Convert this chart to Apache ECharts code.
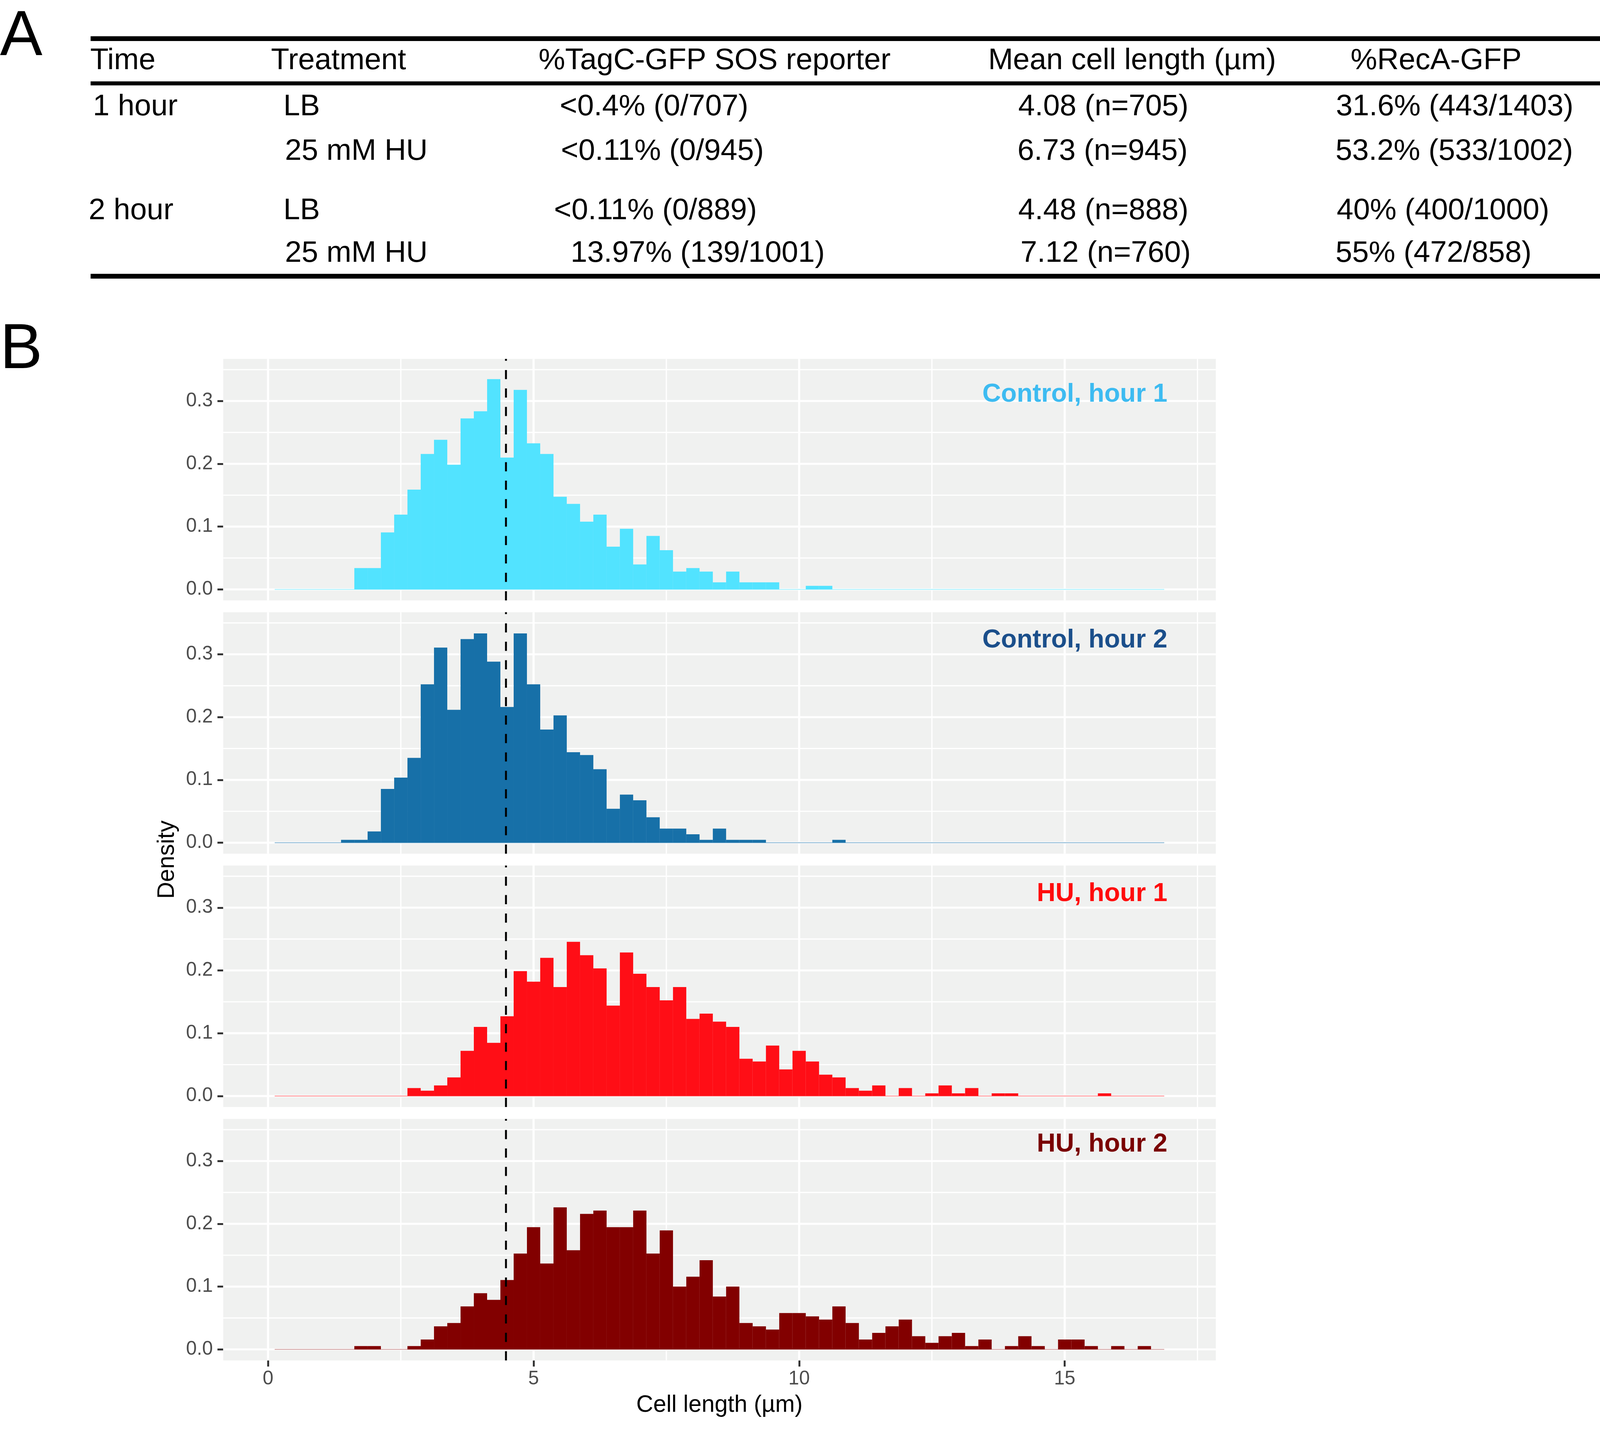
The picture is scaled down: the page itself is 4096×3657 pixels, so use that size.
<!DOCTYPE html>
<html><head><meta charset="utf-8">
<script src="https://cdn.jsdelivr.net/npm/echarts@6/dist/echarts.min.js"></script>
<style>html,body{margin:0;padding:0;background:#fff}#c{width:4096px;height:3657px}</style>
</head><body><div id="c"></div>
<script>
// ---------------- DATA ----------------
const binCenters = [0.25,0.5,0.75,1,1.25,1.5,1.75,2,2.25,2.5,2.75,3,3.25,3.5,3.75,4,4.25,4.5,4.75,5,
  5.25,5.5,5.75,6,6.25,6.5,6.75,7,7.25,7.5,7.75,8,8.25,8.5,8.75,9,9.25,9.5,9.75,10,
  10.25,10.5,10.75,11,11.25,11.5,11.75,12,12.25,12.5,12.75,13,13.25,13.5,13.75,14,14.25,14.5,14.75,15,
  15.25,15.5,15.75,16,16.25,16.5,16.75];
const binWidth = 0.25;
const binRange = [0.125, 16.875];
const panelNames = ['Control, hour 1','Control, hour 2','HU, hour 1','HU, hour 2'];
const densityControlH1 = [0,0,0,0,0,0,
  .0340,.0340,.0908,.1191,.1589,.2156,.2383,.1986,.2723,.2837,
  .3348,.2099,.3177,.2326,.2156,.1475,.1362,.1078,.1191,.0681,
  .0965,.0397,.0851,.0624,.0284,.0340,.0284,.0113,.0284,.0113,
  .0113,.0113,0,0,.0057,.0057,
  0,0,0,0,0,0,0,0,0,0,0,0,0,0,0,0,0,0,0,0,0,0,0,0,0];
const densityControlH2 = [0,0,0,0,0,
  .0045,.0045,.0180,.0856,.1036,.1351,.2523,.3108,.2117,.3243,
  .3333,.2883,.2162,.3333,.2523,.1802,.2027,.1441,.1396,.1171,
  .0541,.0766,.0676,.0405,.0225,.0225,.0135,.0045,.0225,.0045,
  .0045,.0045,0,0,0,0,0,.0045,
  0,0,0,0,0,0,0,0,0,0,0,0,0,0,0,0,0,0,0,0,0,0,0,0];
const densityHUH1 = [0,0,0,0,0,0,0,0,0,0,
  .0127,.0085,.0169,.0296,.0720,.1101,.0847,.1270,.1989,.1820,
  .2201,.1735,.2455,.2243,.2032,.1439,.2286,.1947,.1735,.1524,
  .1735,.1228,.1312,.1185,.1101,.0593,.0550,.0804,.0423,.0720,
  .0550,.0339,.0296,.0127,.0085,.0169,0,.0127,0,.0042,
  .0169,.0042,.0127,0,.0042,.0042,0,0,0,0,
  0,0,.0042,0,0,0,0];
const densityHUH2 = [0,0,0,0,0,0,
  .0053,.0053,0,0,.0053,.0158,.0368,.0421,.0684,.0895,
  .0789,.1105,.1526,.1947,.1368,.2263,.1579,.2158,.2211,.1947,
  .1947,.2211,.1526,.1895,.1000,.1158,.1421,.0842,.1000,.0421,
  .0368,.0316,.0579,.0579,.0526,.0474,.0684,.0421,.0158,.0263,
  .0368,.0474,.0211,.0105,.0211,.0263,.0053,.0158,0,.0053,
  .0211,.0053,0,.0158,.0158,.0053,0,.0053,0,.0053,0];
const meanLength = 4.48;
const xTickValues = [0,5,10,15];
const xMinorValues = [2.5,7.5,12.5,17.5];
const yTickValues = [0,0.1,0.2,0.3];
const yMinorValues = [0.05,0.15,0.25,0.35];
const xAxisTitle = 'Cell length (µm)';
const yAxisTitle = 'Density';

const tableHeader = ['Time','Treatment','%TagC-GFP SOS reporter','Mean cell length (µm)','%RecA-GFP'];
const tableTime = ['1 hour','','2 hour',''];
const tableTreatment = ['LB','25 mM HU','LB','25 mM HU'];
const tableTagC = ['<0.4% (0/707)','<0.11% (0/945)','<0.11% (0/889)','13.97% (139/1001)'];
const tableLength = ['4.08 (n=705)','6.73 (n=945)','4.48 (n=888)','7.12 (n=760)'];
const tableRecA = ['31.6% (443/1403)','53.2% (533/1002)','40% (400/1000)','55% (472/858)'];

// ---------------- LAYOUT / STYLE ----------------
const K = 4096/4150;
const s = v => v*K;
const FF = '"Liberation Sans", Arial, Helvetica, sans-serif';
const densities = [densityControlH1, densityControlH2, densityHUH1, densityHUH2];
const barColors = ['#52E3FF','#1770A8','#FF0E16','#820000'];
const lineColors = ['rgba(82,227,255,0.5)','rgba(23,112,168,0.5)','rgba(255,14,22,0.45)','rgba(130,0,0,0.4)'];
const labelColors = ['#3DBBF1','#1B4F8B','#FF0C0C','#7A0000'];
const gridLeft = 579, gridWidth = 2574.6, gridHeight = 626;
const gridTops = [930.7, 1587.5, 2244.3, 2901.3];
const xMin = -0.8435, xMax = 17.846, yMin = -0.0175, yMax = 0.367;
const labelBaselines = [1041.6, 1678, 2336, 2985];

const chart = echarts.init(document.getElementById('c'), null, {renderer:'canvas'});

const grids = [], xAxes = [], yAxes = [], series = [];
const gridData = [];
xTickValues.forEach(v => gridData.push([v, 0, 0]));
xMinorValues.forEach(v => gridData.push([v, 0, 1]));
yTickValues.forEach(v => gridData.push([0, v, 2]));
yMinorValues.forEach(v => gridData.push([0, v, 3]));

function gridRender(params, api){
  const cs = params.coordSys;
  const kind = api.value(2);
  if (kind < 2) {
    const x = api.coord([api.value(0), 0])[0];
    return {type:'line', shape:{x1:x, y1:cs.y, x2:x, y2:cs.y+cs.height},
      style:{stroke:'#fff', lineWidth: kind===0 ? s(5.5) : s(3.2)}};
  }
  const y = api.coord([0, api.value(1)])[1];
  return {type:'line', shape:{x1:cs.x, y1:y, x2:cs.x+cs.width, y2:y},
    style:{stroke:'#fff', lineWidth: kind===2 ? s(5.2) : s(3.2)}};
}
function barRender(color){
  return function(params, api){
    const c = api.value(0), d = api.value(1);
    if (!(d > 0)) return null;
    const p0 = api.coord([c - binWidth/2, d]);
    const p1 = api.coord([c + binWidth/2, 0]);
    return {type:'rect', shape:{x:p0[0], y:p0[1], width:p1[0]-p0[0], height:p1[1]-p0[1]}, style:{fill:color}};
  };
}

for (let i = 0; i < 4; i++) {
  grids.push({left:s(gridLeft), top:s(gridTops[i]), width:s(gridWidth), height:s(gridHeight),
    show:true, backgroundColor:'#F0F1F0', borderWidth:0, containLabel:false});
  xAxes.push({type:'value', gridIndex:i, min:xMin, max:xMax, position:'bottom',
    splitLine:{show:false}, axisLine:{show:false, onZero:false},
    axisTick:{show:i===3, length:s(16), customValues:xTickValues, lineStyle:{color:'#333', width:s(5)}},
    axisLabel:{show:i===3, customValues:xTickValues, fontSize:s(50), lineHeight:s(50), fontFamily:FF, color:'#4D4D4D', margin:s(24)}});
  yAxes.push({type:'value', gridIndex:i, min:yMin, max:yMax, position:'left',
    splitLine:{show:false}, axisLine:{show:false, onZero:false},
    axisTick:{show:true, length:s(15), customValues:yTickValues, lineStyle:{color:'#333', width:s(5)}},
    axisLabel:{customValues:yTickValues, formatter:v => v.toFixed(1), fontSize:s(50), lineHeight:s(50),
      padding:[s(10),0,0,0], fontFamily:FF, color:'#4D4D4D', margin:s(27)}});
  series.push({type:'custom', xAxisIndex:i, yAxisIndex:i, z:1, silent:true, renderItem:gridRender, data:gridData, clip:false});
  series.push({type:'line', xAxisIndex:i, yAxisIndex:i, z:2, silent:true, symbol:'none',
    lineStyle:{color:lineColors[i], width:s(2.2)}, data:[[binRange[0],0],[binRange[1],0]]});
  series.push({type:'custom', xAxisIndex:i, yAxisIndex:i, z:3, silent:true, renderItem:barRender(barColors[i]),
    data: binCenters.map((c, j) => [c, densities[i][j]])});
  series.push({type:'line', xAxisIndex:i, yAxisIndex:i, z:4, silent:true, symbol:'none',
    lineStyle:{color:'#000', width:s(5), type:[s(23.7), s(24.1)]}, data:[[meanLength,yMin],[meanLength,yMax]]});
}

function txt(text, x, baseline, size, opts={}){
  return {type:'text', silent:true, z:10, style:Object.assign({
    text, x:s(x), y:s(baseline - 0.27*size), fill:'#000',
    fontSize:s(size), fontFamily:FF, fontWeight:'normal',
    textAlign:'left', textVerticalAlign:'middle', align:'left', verticalAlign:'middle'}, opts)};
}
const graphics = [];
// panel letters
graphics.push(txt('A', 0, 142, 165));
graphics.push(txt('B', 0, 953, 165));
// table rules
[[94,12.3],[211,10.5],[710,12.5]].forEach(([y,h]) => graphics.push({type:'rect', silent:true, z:10,
  shape:{x:s(235), y:s(y), width:s(4150-235), height:s(h)}, style:{fill:'#000'}}));
// table text
const TF = 77.5;
const headerX = [234, 703, 1397, 2563, 3503];
tableHeader.forEach((t, j) => graphics.push(txt(t, headerX[j], 178.5, TF)));
const rowBase = [298, 414, 568, 678];
const timeX = [241, 0, 230, 0];
const treatX = [735, 739, 735, 739];
const tagX = [1452, 1455, 1437, 1480];
const lenX = [2641, 2639, 2641, 2647];
const recX = [3465, 3464, 3467, 3464];
for (let r = 0; r < 4; r++) {
  if (tableTime[r]) graphics.push(txt(tableTime[r], timeX[r], rowBase[r], TF));
  graphics.push(txt(tableTreatment[r], treatX[r], rowBase[r], TF));
  graphics.push(txt(tableTagC[r], tagX[r], rowBase[r], TF));
  graphics.push(txt(tableLength[r], lenX[r], rowBase[r], TF));
  graphics.push(txt(tableRecA[r], recX[r], rowBase[r], TF));
}
// panel labels
for (let i = 0; i < 4; i++) {
  graphics.push(txt(panelNames[i], 3028, labelBaselines[i], 67,
    {fill:labelColors[i], fontWeight:'bold', textAlign:'right', align:'right'}));
}
// axis titles
graphics.push(txt(xAxisTitle, 1866, 3660, 61, {textAlign:'center', align:'center'}));
graphics.push({type:'text', silent:true, z:10, x:s(434), y:s(2229), rotation:Math.PI/2,
  style:{text:yAxisTitle, x:0, y:0, fill:'#000', fontSize:s(61), fontFamily:FF,
    textAlign:'center', textVerticalAlign:'middle', align:'center', verticalAlign:'middle'}});

chart.setOption({
  animation:false,
  backgroundColor:'#fff',
  grid:grids, xAxis:xAxes, yAxis:yAxes, series,
  graphic:{elements:graphics}
});
</script></body></html>
